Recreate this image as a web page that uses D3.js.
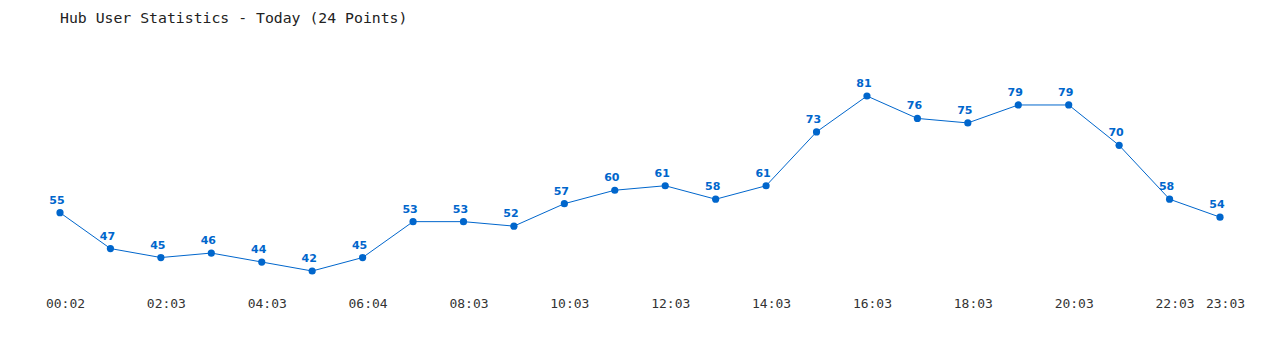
<!DOCTYPE html>
<html><head><meta charset="utf-8">
<script src="https://cdn.jsdelivr.net/npm/d3@7"></script>
<style>body{margin:0;background:#fff;}svg{display:block;}</style>
</head><body>
<svg id="c" width="1280" height="350"></svg>
<script>
const categories = ["00:02","01:03","02:03","03:03","04:03","05:03","06:04","07:03","08:03","09:03","10:03","11:03","12:03","13:03","14:03","15:03","16:03","17:03","18:03","19:03","20:03","21:03","22:03","23:03"];
const values = [55,47,45,46,44,42,45,53,53,52,57,60,61,58,61,73,81,76,75,79,79,70,58,54];
const tickLabels = ["00:02","02:03","04:03","06:04","08:03","10:03","12:03","14:03","16:03","18:03","20:03","22:03","23:03"];
const title = "Hub User Statistics - Today (24 Points)";

const svg = d3.select("#c");
const x = d3.scalePoint().domain(categories).range([60,1220]);
const y = d3.scaleLinear().domain([42,81]).range([271,96]);
const blue = "#0066cc";

svg.append("text").attr("x",60).attr("y",23)
  .attr("font-family","DejaVu Sans Mono").attr("font-size",14.8).attr("fill","#222")
  .text(title);

const axis = d3.axisBottom(x).tickValues(tickLabels).tickSize(0).tickPadding(0);
const g = svg.append("g").attr("transform","translate(5,308)").call(axis);
g.select(".domain").remove();
g.selectAll("text").attr("font-family","DejaVu Sans Mono").attr("font-size",13).attr("fill","#333").attr("dy","0");

const data = categories.map((c,i)=>({c,v:values[i]}));
svg.append("path").datum(data)
  .attr("d",d3.line().x(d=>x(d.c)).y(d=>y(d.v)))
  .attr("fill","none").attr("stroke",blue).attr("stroke-width",1);
svg.selectAll("circle.p").data(data).join("circle")
  .attr("cx",d=>x(d.c)).attr("cy",d=>y(d.v)).attr("r",3.6).attr("fill",blue);
svg.selectAll("text.v").data(data).join("text").attr("class","v")
  .attr("x",d=>x(d.c)-3).attr("y",d=>y(d.v)-9)
  .attr("text-anchor","middle").attr("font-family","DejaVu Sans").attr("font-weight","bold")
  .attr("font-size",11).attr("fill",blue).text(d=>d.v);
</script>
</body></html>
